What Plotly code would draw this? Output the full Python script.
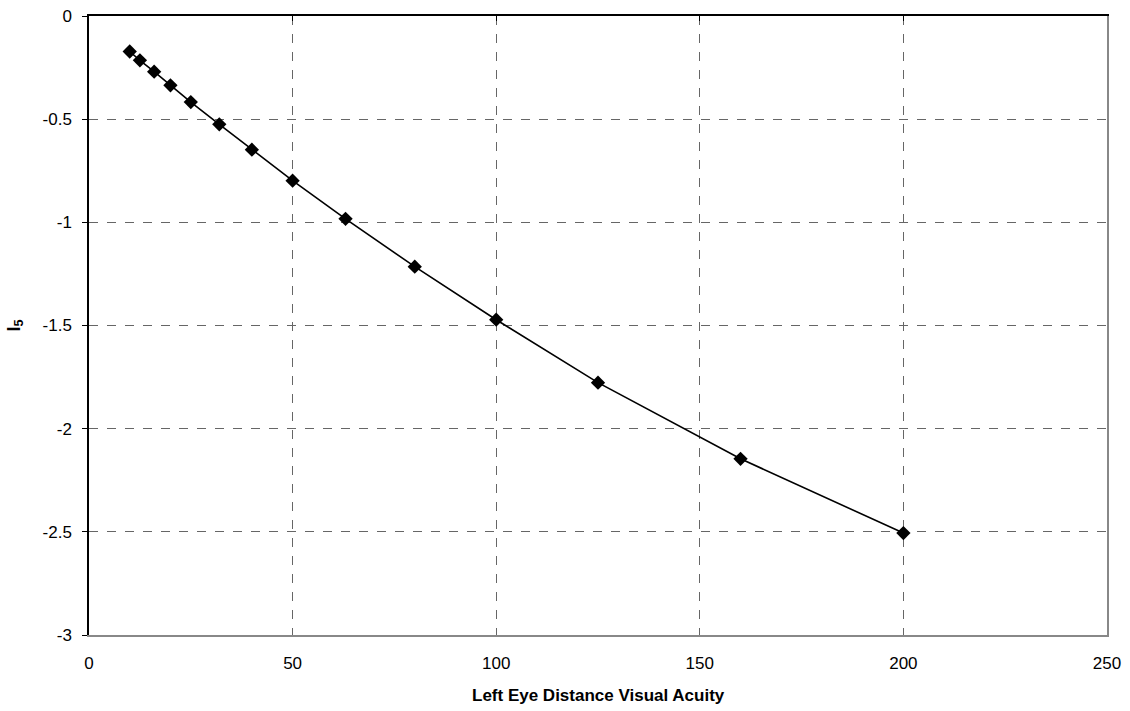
import plotly.graph_objects as go

acuity = [10, 12.5, 16, 20, 25, 32, 40, 50, 63, 80, 100, 125, 160, 200]
i5 = [-0.172, -0.215, -0.27, -0.336, -0.417, -0.525, -0.648, -0.798,
      -0.983, -1.215, -1.472, -1.777, -2.146, -2.506]
x_ticks = [0, 50, 100, 150, 200, 250]
y_ticks = [0, -0.5, -1, -1.5, -2, -2.5, -3]
y_tick_labels = ["0", "-0.5", "-1", "-1.5", "-2", "-2.5", "-3"]
x_title = "<b>Left Eye Distance Visual Acuity</b>"
y_title = "<b>I<sub>5</sub></b>"

FAM = "Liberation Sans, Arial"
font = dict(family=FAM, size=17, color="black")

fig = go.Figure()
fig.add_trace(go.Scatter(
    x=acuity, y=i5, mode="lines+markers",
    line=dict(color="black", width=1.6),
    marker=dict(symbol="diamond", size=11, color="black"),
    showlegend=False, hoverinfo="x+y"))
fig.add_trace(go.Scatter(x=[0], y=[0], xaxis="x2", yaxis="y2", mode="markers",
                         marker=dict(opacity=0), showlegend=False, hoverinfo="skip"))

fig.update_layout(
    width=1130, height=711,
    margin=dict(l=89, r=23, t=16, b=76, pad=0),
    paper_bgcolor="white", plot_bgcolor="white",
    font=font,
    xaxis=dict(range=[0, 250], tickvals=x_ticks, ticktext=[str(v) for v in x_ticks],
               showgrid=True, gridcolor="#666666", griddash="dash", gridwidth=1,
               zeroline=False, showline=True, linecolor="#888888", linewidth=1.5,
               ticks="", tickfont=font, ticklabelstandoff=12, automargin=False),
    yaxis=dict(range=[-3, 0], tickvals=y_ticks, ticktext=y_tick_labels,
               showgrid=True, gridcolor="#666666", griddash="dash", gridwidth=1,
               zeroline=False, showline=True, linecolor="black", linewidth=1.5,
               ticks="outside", ticklen=5, tickcolor="black", tickwidth=1,
               tickfont=font, ticklabelstandoff=7, automargin=False),
    xaxis2=dict(range=[0, 250], overlaying="x", side="top", tickvals=x_ticks,
                showticklabels=False, showgrid=False, zeroline=False,
                showline=True, linecolor="black", linewidth=1.5, automargin=False,
                ticks="inside", ticklen=5, tickcolor="black", tickwidth=1),
    yaxis2=dict(range=[-3, 0], overlaying="y", side="right", showticklabels=False,
                showgrid=False, zeroline=False, showline=True, automargin=False,
                linecolor="#888888", linewidth=1.5, ticks=""),
    annotations=[
        dict(text=x_title, xref="paper", yref="paper", x=0.5, y=0,
             xanchor="center", yanchor="middle", yshift=-60, showarrow=False,
             font=dict(family=FAM, size=17, color="black")),
        dict(text=y_title, xref="paper", yref="paper", x=0, y=0.5,
             xanchor="center", yanchor="middle", xshift=-74, textangle=-90,
             showarrow=False, font=dict(family=FAM, size=18, color="black")),
    ],
)
fig.write_html("out.html", config={"displayModeBar": False},
               post_script="document.body.style.margin='0';")
